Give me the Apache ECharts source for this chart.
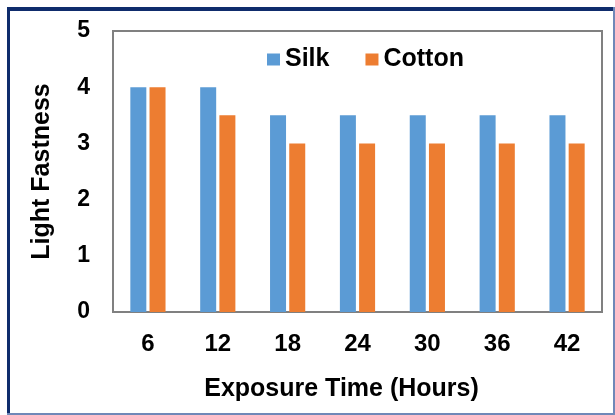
<!DOCTYPE html>
<html>
<head>
<meta charset="utf-8">
<script src="https://cdn.jsdelivr.net/npm/echarts@6/dist/echarts.min.js"></script>
<style>
html,body{margin:0;padding:0;background:#fff;}
#c{width:615px;height:415px;}
</style>
</head>
<body>
<div id="c"></div>
<script>
const categories = ['6', '12', '18', '24', '30', '36', '42'];
const silk = [4, 4, 3.5, 3.5, 3.5, 3.5, 3.5];
const cotton = [4, 3.5, 3, 3, 3, 3, 3];
const seriesNames = ['Silk', 'Cotton'];
const xName = 'Exposure Time (Hours)';
const yName = 'Light Fastness';

const chart = echarts.init(document.getElementById('c'), null, {renderer: 'canvas'});
const font = 'Liberation Sans, Arial, sans-serif';
chart.setOption({
  animation: false,
  backgroundColor: '#fff',
  graphic: [
    {type: 'rect', shape: {x: 7, y: 7, width: 608, height: 4}, style: {fill: '#0f2c6c'}, z: 100},
    {type: 'rect', shape: {x: 7, y: 7, width: 3, height: 408}, style: {fill: '#0f2c6c'}, z: 100},
    {type: 'rect', shape: {x: 613, y: 7, width: 2, height: 408}, style: {fill: '#7088b8'}, z: 100},
    {type: 'rect', shape: {x: 7, y: 413, width: 608, height: 2}, style: {fill: '#7088b8'}, z: 100}
  ],
  legend: {
    data: seriesNames,
    top: 42,
    left: 262,
    itemWidth: 13,
    itemHeight: 12,
    itemGap: 36,
    icon: 'rect',
    textStyle: {fontFamily: font, fontWeight: 'bold', fontSize: 25, color: '#000'}
  },
  grid: {
    left: 113, right: 13, top: 31, bottom: 103,
    show: true, borderColor: '#808080', borderWidth: 2, backgroundColor: 'transparent'
  },
  xAxis: {
    type: 'category',
    data: categories,
    name: xName,
    nameLocation: 'middle',
    nameGap: 65,
    nameTextStyle: {fontFamily: font, fontWeight: 'bold', fontSize: 25, color: '#000', padding: [0, 32, 0, 0]},
    axisLine: {show: false},
    axisTick: {show: false},
    axisLabel: {fontFamily: font, fontWeight: 'bold', fontSize: 24, color: '#000', margin: 20}
  },
  yAxis: {
    type: 'value',
    min: 0, max: 5, interval: 1,
    name: yName,
    nameLocation: 'middle',
    nameGap: 58,
    nameTextStyle: {fontFamily: font, fontWeight: 'bold', fontSize: 25, color: '#000'},
    axisLine: {show: false},
    axisTick: {show: false},
    splitLine: {show: false},
    axisLabel: {fontFamily: font, fontWeight: 'bold', fontSize: 23, color: '#000', margin: 23}
  },
  series: [
    {name: seriesNames[0], type: 'bar', data: silk, barWidth: 16, barGap: '20%', itemStyle: {color: '#5b9bd5'}},
    {name: seriesNames[1], type: 'bar', data: cotton, barWidth: 16, barGap: '20%', itemStyle: {color: '#ed7d31'}}
  ]
});
</script>
</body>
</html>
